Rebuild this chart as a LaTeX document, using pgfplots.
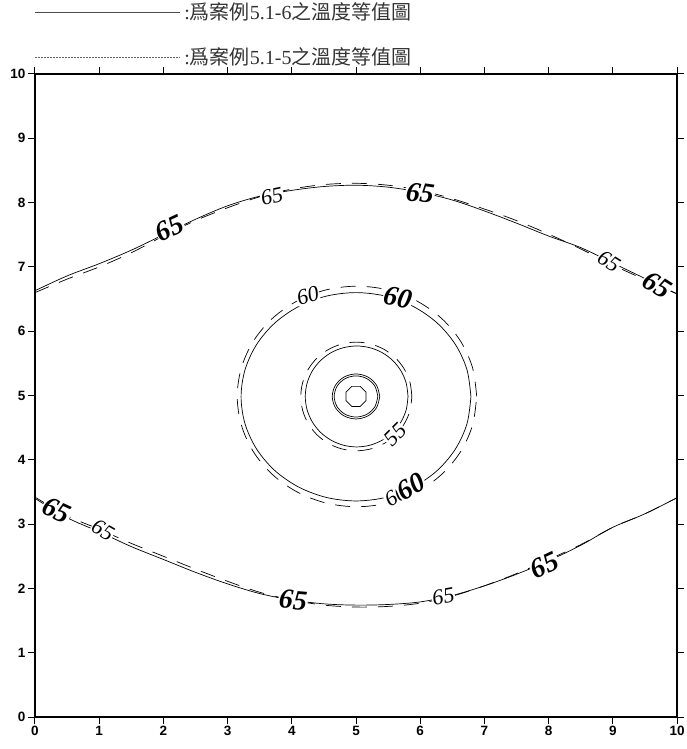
\documentclass[border=0pt]{standalone}
\usepackage{fontspec}
\usepackage{pgfplots}
\pgfplotsset{compat=1.18}
\setmainfont{Liberation Serif}
\setsansfont{Liberation Sans}
\newfontfamily\cjk{Noto Sans CJK TC}
\newfontfamily\lblfont{Liberation Serif}

\tikzset{
  solidc/.style={black, line width=0.7pt, smooth, tension=0.55},
  dashc/.style={black, line width=0.7pt, smooth, tension=0.55, dash pattern=on 15pt off 11pt},
  big/.style={font=\lblfont\itshape\bfseries\fontsize{28}{28}\selectfont, fill=white, inner sep=0.6pt},
  small/.style={font=\lblfont\itshape\fontsize{22}{22}\selectfont, fill=white, inner sep=0.6pt},
}

\begin{document}
\begin{tikzpicture}
\begin{axis}[
  name=main,
  scale only axis,
  width=642pt, height=643pt,
  xmin=0, xmax=10, ymin=0, ymax=10,
  xtick={0,...,10}, ytick={0,...,10},
  tick align=outside,
  major tick length=7pt,
  axis line style={line width=1.5pt},
  tick style={line width=1pt, black},
  /pgf/number format/assume math mode=true,
  tick label style={font=\sffamily\bfseries\fontsize{13.5}{13.5}\selectfont},
  xticklabel style={yshift=1pt},
  yticklabel style={xshift=1pt},
]

% ---- case 5.1-5 (dashed) ----
\addplot[dashc] coordinates {
 (0,6.60) (0.5,6.81) (1,7.00) (1.5,7.22) (2,7.48) (2.5,7.72) (3,7.92) (3.5,8.09)
 (4,8.21) (4.5,8.28) (5,8.30) (5.5,8.27) (6,8.19) (6.5,8.06) (7,7.90) (7.5,7.72)
 (8,7.51) (8.5,7.28) (9,7.03) (9.5,6.80) (10,6.58)};
\addplot[dashc] coordinates {
 (0,3.42) (0.5,3.13) (1,2.92) (1.5,2.70) (2,2.50) (2.5,2.30) (3,2.11) (3.5,1.94)
 (4,1.82) (4.5,1.74) (5,1.71) (5.5,1.72) (6,1.77) (6.5,1.88) (7,2.04) (7.5,2.23)
 (8,2.45) (8.5,2.68) (9,2.95) (9.5,3.16) (10,3.41)};
\addplot[dashc] coordinates {
 (6.88,4.985) (6.816,5.429) (6.63,5.843) (6.334,6.198) (5.948,6.470) (5.498,6.642)
 (5.015,6.70) (4.532,6.642) (4.083,6.470) (3.696,6.198) (3.40,5.843) (3.214,5.429)
 (3.15,4.985) (3.214,4.541) (3.40,4.128) (3.696,3.773) (4.083,3.50) (4.532,3.328)
 (5.015,3.27) (5.498,3.328) (5.948,3.50) (6.334,3.773) (6.63,4.128) (6.816,4.541)
 (6.88,4.985)};
\addplot[dashc] coordinates {
 (5.87,4.985) (5.841,5.204) (5.754,5.408) (5.617,5.583) (5.438,5.717) (5.229,5.801)
 (5.005,5.83) (4.781,5.801) (4.573,5.717) (4.393,5.583) (4.256,5.408) (4.17,5.204)
 (4.14,4.985) (4.17,4.766) (4.256,4.563) (4.393,4.388) (4.573,4.253) (4.781,4.169)
 (5.005,4.14) (5.229,4.169) (5.438,4.253) (5.617,4.388) (5.754,4.563) (5.841,4.766)
 (5.87,4.985)};
\addplot[solidc] coordinates {
 (5.37,4.985) (5.320,5.16) (5.185,5.288) (5.0,5.335) (4.815,5.288) (4.680,5.16)
 (4.63,4.985) (4.68,4.81) (4.815,4.682) (5.0,4.635) (5.185,4.682) (5.32,4.81)
 (5.37,4.985)};

% ---- case 5.1-6 (solid) ----
\addplot[solidc] coordinates {
 (0,6.63) (0.5,6.86) (1,7.05) (1.5,7.26) (2,7.50) (2.5,7.74) (3,7.95) (3.5,8.10)
 (4,8.19) (4.5,8.25) (5,8.27) (5.5,8.24) (6,8.16) (6.5,8.04) (7,7.87) (7.5,7.68)
 (8,7.48) (8.5,7.30) (9,7.06) (9.5,6.82) (10,6.58)};
\addplot[solidc] coordinates {
 (0,3.40) (0.5,3.10) (1,2.88) (1.5,2.65) (2,2.45) (2.5,2.25) (3,2.07) (3.5,1.92)
 (4,1.82) (4.5,1.76) (5,1.74) (5.5,1.75) (6,1.79) (6.5,1.89) (7,2.04) (7.5,2.22)
 (8,2.43) (8.5,2.67) (9,2.95) (9.5,3.16) (10,3.41)};
\addplot[solidc] coordinates {
 (6.79,4.98) (6.729,5.399) (6.550,5.79) (6.266,6.126) (5.895,6.383) (5.463,6.545)
 (5.0,6.60) (4.537,6.545) (4.105,6.383) (3.734,6.126) (3.45,5.79) (3.271,5.399)
 (3.21,4.98) (3.271,4.561) (3.45,4.17) (3.734,3.834) (4.105,3.577) (4.537,3.415)
 (5.0,3.36) (5.463,3.415) (5.895,3.577) (6.266,3.834) (6.55,4.17) (6.729,4.561)
 (6.79,4.98)};
\addplot[solidc] coordinates {
 (5.81,4.985) (5.783,5.188) (5.703,5.378) (5.576,5.540) (5.41,5.665) (5.217,5.743)
 (5.01,5.77) (4.803,5.743) (4.61,5.665) (4.444,5.540) (4.317,5.378) (4.237,5.188)
 (4.21,4.985) (4.237,4.782) (4.317,4.593) (4.444,4.430) (4.61,4.306) (4.803,4.227)
 (5.01,4.20) (5.217,4.227) (5.41,4.306) (5.576,4.430) (5.703,4.593) (5.783,4.782)
 (5.81,4.985)};
\addplot[solidc] coordinates {
 (5.34,4.985) (5.294,5.145) (5.17,5.262) (5.0,5.305) (4.83,5.262) (4.706,5.145)
 (4.66,4.985) (4.706,4.825) (4.83,4.708) (5.0,4.665) (5.17,4.708) (5.294,4.825)
 (5.34,4.985)};
\addplot[black, line width=0.7pt] coordinates {
 (5.157,5.05) (5.065,5.142) (4.935,5.142) (4.843,5.05) (4.843,4.92)
 (4.935,4.828) (5.065,4.828) (5.157,4.92) (5.157,5.05)};

% ---- contour labels ----
\node[small, rotate=12]  at (axis cs:3.69,8.10) {65};
\node[big,   rotate=25]  at (axis cs:2.10,7.60) {65};
\node[big,   rotate=-8]  at (axis cs:6.00,8.15) {65};
\node[small, rotate=-32] at (axis cs:8.94,7.09) {65};
\node[big,   rotate=-32] at (axis cs:9.69,6.72) {65};
\node[big,   rotate=-25] at (axis cs:0.34,3.22) {65};
\node[small, rotate=-30] at (axis cs:1.06,2.91) {65};
\node[big,   rotate=-5]  at (axis cs:4.02,1.82) {65};
\node[small, rotate=10]  at (axis cs:6.36,1.87) {65};
\node[big,   rotate=25]  at (axis cs:7.94,2.36) {65};
\node[small, rotate=15]  at (axis cs:4.25,6.55) {60};
\node[big,   rotate=-12] at (axis cs:5.65,6.52) {60};
\node[small, rotate=45]  at (axis cs:5.61,4.39) {55};
\node[small, rotate=30]  at (axis cs:5.62,3.44) {60};
\node[big,   rotate=30]  at (axis cs:5.86,3.58) {60};
\end{axis}

% ---- legend ----
\draw[black!70, line width=0.8pt] ([yshift=62pt]main.north west) -- ++(145pt,0)
  node[right, inner sep=4pt, text=black!80, font=\fontsize{20}{20}\selectfont]
  {:{\cjk 爲案例}5.1-6{\cjk 之溫度等值圖}};
\draw[black!60, line width=0.6pt, dash pattern=on 2pt off 1pt] ([yshift=17pt]main.north west) -- ++(145pt,0)
  node[right, inner sep=4pt, text=black!80, font=\fontsize{20}{20}\selectfont]
  {:{\cjk 爲案例}5.1-5{\cjk 之溫度等值圖}};

\pgfresetboundingbox
\path ([xshift=-35pt,yshift=-32pt]main.south west) rectangle ([xshift=9pt,yshift=74pt]main.north east);
\end{tikzpicture}
\end{document}
